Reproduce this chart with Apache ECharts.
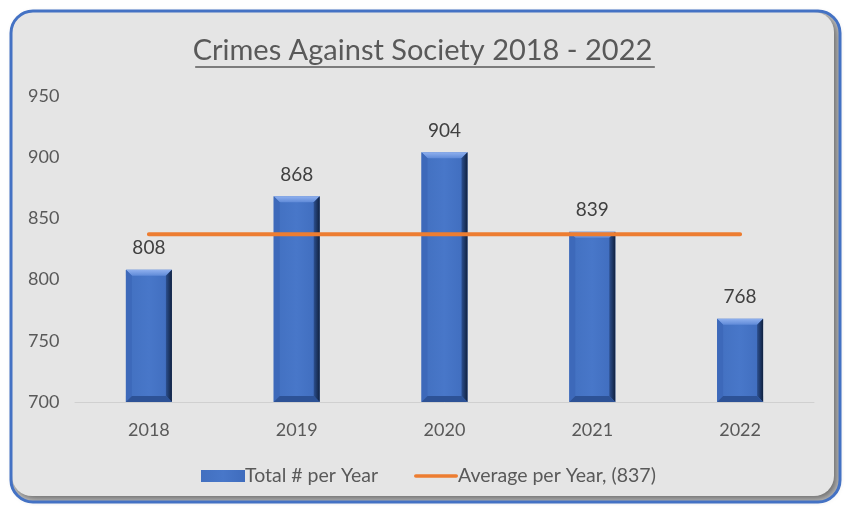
<!DOCTYPE html>
<html>
<head>
<meta charset="utf-8">
<script src="https://cdn.jsdelivr.net/npm/echarts@6/dist/echarts.min.js"></script>
<style>
  html, body { margin: 0; padding: 0; background: #ffffff; }
  #chart { width: 845px; height: 506px; }
</style>
</head>
<body>
<div id="chart"></div>
<script>
// Yearly counts of crimes against society
const years = ['2018', '2019', '2020', '2021', '2022'];
const totals = [808, 868, 904, 839, 768];
const averageValue = 837;
const averageLine = [837, 837, 837, 837, 837];
const yTicks = { min: 700, max: 950, step: 50 };

const titleText = 'Crimes Against Society 2018 - 2022';
const FONT = 'Lato, "Open Sans", sans-serif';
const TITLE_SIZE = 29;

// measure the title so the underline fits it exactly
const measureCtx = document.createElement('canvas').getContext('2d');
measureCtx.font = TITLE_SIZE + 'px ' + FONT;
const titleWidth = measureCtx.measureText(titleText).width;

const chart = echarts.init(document.getElementById('chart'), null, { renderer: 'canvas' });

const BAR_W = 46;
const BEVEL = 6;

// bevelled edges drawn on top of each bar
function renderBevel(params, api) {
  const idx = api.value(0);
  const val = api.value(1);
  const top = api.coord([idx, val]);
  const base = api.coord([idx, yTicks.min]);
  const x0 = top[0] - BAR_W / 2, x1 = top[0] + BAR_W / 2;
  const yt = top[1], yb = base[1];
  const b = BEVEL;
  return {
    type: 'group',
    children: [
      { type: 'polygon', shape: { points: [[x0, yt], [x1, yt], [x1 - b, yt + b], [x0 + b, yt + b]] },
        style: { fill: new echarts.graphic.LinearGradient(0, 0, 0, 1, [
          { offset: 0, color: '#8fb0ee' }, { offset: 1, color: '#5f8ad8' }]) } },
      { type: 'polygon', shape: { points: [[x0, yt], [x0 + b, yt + b], [x0 + b, yb - b], [x0, yb]] },
        style: { fill: '#3d69ba' } },
      { type: 'polygon', shape: { points: [[x1, yt], [x1, yb], [x1 - b, yb - b], [x1 - b, yt + b]] },
        style: { fill: new echarts.graphic.LinearGradient(0, 0, 1, 0, [
          { offset: 0, color: '#2c4f8f' }, { offset: 1, color: '#10213f' }]) } },
      { type: 'polygon', shape: { points: [[x0, yb], [x1, yb], [x1 - b, yb - b], [x0 + b, yb - b]] },
        style: { fill: '#2d5296' } }
    ]
  };
}

const avgName = 'Average per Year, (' + averageValue + ')';

const option = {
  animation: false,
  backgroundColor: '#ffffff',
  textStyle: { fontFamily: FONT },
  graphic: [
    { type: 'rect', z: -10, shape: { x: 11, y: 11, width: 829, height: 491, r: 22 },
      style: { fill: '#c4c4c4' } },
    { type: 'rect', z: -9, shape: { x: 12, y: 12, width: 822, height: 484, r: 20 },
      style: { fill: '#e5e5e5', shadowBlur: 7, shadowColor: 'rgba(0,0,0,0.45)', shadowOffsetX: 3, shadowOffsetY: 3 } },
    { type: 'rect', z: -8, shape: { x: 11, y: 11, width: 829, height: 491, r: 22 },
      style: { fill: 'none', stroke: '#4472c4', lineWidth: 3 } },
    { type: 'line', z: 5, shape: { x1: 425 - titleWidth / 2, y1: 67, x2: 425 + titleWidth / 2, y2: 67 },
      style: { stroke: '#595959', lineWidth: 1.5 } }
  ],
  title: {
    text: titleText,
    left: 'center',
    top: 31,
    textStyle: { fontFamily: FONT, fontSize: TITLE_SIZE, fontWeight: 'normal', color: '#595959' }
  },
  legend: {
    left: 196,
    top: 461,
    itemWidth: 44,
    itemHeight: 12,
    itemGap: 36,
    textStyle: { fontFamily: FONT, fontSize: 19.5, color: '#595959', padding: [0, 0, 0, -5] },
    data: [
      { name: 'Total # per Year', icon: 'rect' },
      { name: avgName, icon: 'path://M0,0 M2,4 h44 a2,2 0 0 1 0,4 h-44 a2,2 0 0 1 0,-4 z M48,12' }
    ]
  },
  grid: { left: 75, right: 31, top: 96, bottom: 104 },
  xAxis: {
    type: 'category',
    data: years,
    axisTick: { show: false },
    axisLine: { lineStyle: { color: '#d0d0d0', width: 1 } },
    axisLabel: { fontFamily: FONT, fontSize: 18, color: '#595959', margin: 19 }
  },
  yAxis: {
    type: 'value',
    min: yTicks.min,
    max: yTicks.max,
    interval: yTicks.step,
    splitLine: { show: false },
    axisLine: { show: false },
    axisTick: { show: false },
    axisLabel: { fontFamily: FONT, fontSize: 18, color: '#595959', align: 'left', margin: 47 }
  },
  series: [
    {
      name: 'Total # per Year',
      type: 'bar',
      data: totals,
      barWidth: BAR_W,
      itemStyle: {
        color: new echarts.graphic.LinearGradient(0, 0, 1, 0, [
          { offset: 0, color: '#4270c0' }, { offset: 0.5, color: '#4877c9' }, { offset: 1, color: '#3f6cbd' }])
      },
      label: {
        show: true,
        position: 'top',
        distance: 12,
        fontFamily: FONT,
        fontSize: 19,
        color: '#404040'
      },
      z: 2
    },
    {
      name: 'bevel',
      type: 'custom',
      renderItem: renderBevel,
      data: totals.map((v, i) => [i, v]),
      z: 3,
      silent: true
    },
    {
      name: avgName,
      type: 'line',
      data: averageLine,
      symbol: 'none',
      lineStyle: { color: '#ed7d31', width: 4, cap: 'round' },
      itemStyle: { color: '#ed7d31' },
      z: 4
    }
  ]
};

chart.setOption(option);
</script>
</body>
</html>
